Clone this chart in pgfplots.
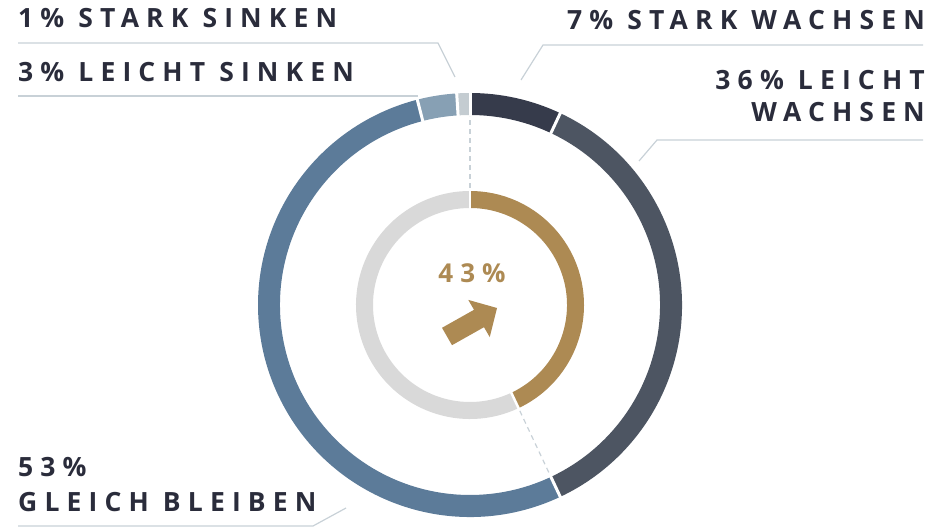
\documentclass[border=0pt]{standalone}
\usepackage{pgfplots}
\pgfplotsset{compat=1.18}
\usepackage{pgfplotstable}
\usepackage{fontspec}
\setmainfont{Open Sans}
\newfontfamily\lab{Open Sans}[LetterSpace=27]
\definecolor{c1}{HTML}{363B4B}
\definecolor{c2}{HTML}{4D5562}
\definecolor{c3}{HTML}{5C7B99}
\definecolor{c4}{HTML}{87A0B4}
\definecolor{c5}{HTML}{C4CCD1}
\definecolor{gold}{HTML}{AD8A53}
\definecolor{ringgrey}{HTML}{D9D9D9}
\definecolor{txt}{HTML}{2A2C3B}
\definecolor{leader}{HTML}{C8D1D7}

\pgfplotstableread{
val col
7 c1
36 c2
53 c3
3 c4
1 c5
}\outerdata
\pgfplotstableread{
val col
43 gold
57 ringgrey
}\innerdata

\begin{document}
\begin{tikzpicture}
\begin{axis}[
  width=951bp, height=528bp, scale only axis,
  xmin=-470, xmax=481, ymin=-223, ymax=305,
  hide axis, clip=false,
]
\addplot[draw=none] coordinates {(0,0)};
\coordinate (bl) at (rel axis cs:0,0);
\coordinate (tr) at (rel axis cs:1,1);
\pgfplotsextra{
  % outer ring
  \gdef\cum{0}
  \foreach \i in {0,...,4}{
    \pgfplotstablegetelem{\i}{val}\of\outerdata \let\v\pgfplotsretval
    \pgfplotstablegetelem{\i}{col}\of\outerdata \let\c\pgfplotsretval
    \pgfmathsetmacro\aone{\cum*3.6}
    \pgfmathsetmacro\atwo{(\cum+\v)*3.6}
    \fill[\c] (axis cs:{212*sin(\aone)},{212*cos(\aone)}) arc[start angle={90-\aone}, end angle={90-\atwo}, radius=212bp]
      -- (axis cs:{190*sin(\atwo)},{190*cos(\atwo)}) arc[start angle={90-\atwo}, end angle={90-\aone}, radius=190bp] -- cycle;
    \pgfmathsetmacro\nc{\cum+\v}\xdef\cum{\nc}
  }
  \gdef\cum{0}
  \foreach \i in {0,...,4}{
    \pgfplotstablegetelem{\i}{val}\of\outerdata \let\v\pgfplotsretval
    \pgfmathsetmacro\aone{\cum*3.6}
    \draw[white, line width=3bp] (axis cs:{186*sin(\aone)},{186*cos(\aone)}) -- (axis cs:{216*sin(\aone)},{216*cos(\aone)});
    \pgfmathsetmacro\nc{\cum+\v}\xdef\cum{\nc}
  }
  % inner ring
  \gdef\cum{0}
  \foreach \i in {0,1}{
    \pgfplotstablegetelem{\i}{val}\of\innerdata \let\v\pgfplotsretval
    \pgfplotstablegetelem{\i}{col}\of\innerdata \let\c\pgfplotsretval
    \pgfmathsetmacro\aone{\cum*3.6}
    \pgfmathsetmacro\atwo{(\cum+\v)*3.6}
    \fill[\c] (axis cs:{114*sin(\aone)},{114*cos(\aone)}) arc[start angle={90-\aone}, end angle={90-\atwo}, radius=114bp]
      -- (axis cs:{97*sin(\atwo)},{97*cos(\atwo)}) arc[start angle={90-\atwo}, end angle={90-\aone}, radius=97bp] -- cycle;
    \pgfmathsetmacro\nc{\cum+\v}\xdef\cum{\nc}
  }
  \gdef\cum{0}
  \foreach \i in {0,1}{
    \pgfplotstablegetelem{\i}{val}\of\innerdata \let\v\pgfplotsretval
    \pgfmathsetmacro\aone{\cum*3.6}
    \draw[white, line width=2.5bp] (axis cs:{94*sin(\aone)},{94*cos(\aone)}) -- (axis cs:{117*sin(\aone)},{117*cos(\aone)});
    \draw[leader, line width=1.2bp, dash pattern=on 5bp off 4bp] (axis cs:{117*sin(\aone)},{117*cos(\aone)}) -- (axis cs:{189*sin(\aone)},{189*cos(\aone)});
    \pgfmathsetmacro\nc{\cum+\v}\xdef\cum{\nc}
  }
}
% arrow
\fill[gold] (axis cs:-28,-22.8) -- (axis cs:4,-4.8) -- (axis cs:-1.75,5.1) -- (axis cs:27,-3) -- (axis cs:19.75,-32.1) -- (axis cs:14,-22.2) -- (axis cs:-18,-40.2) -- cycle;
\node[anchor=base, text=gold, font=\lab\bfseries\fontsize{26bp}{30bp}\selectfont, inner sep=0pt] at (axis cs:2,22) {43\%};
% leader lines
\draw[leader, line width=1.2bp] (axis cs:-452,262) -- (axis cs:-32,262) -- (axis cs:-15,228);
\draw[leader, line width=1.2bp] (axis cs:-452,209) -- (axis cs:-52,209);
\draw[leader, line width=1.2bp] (axis cs:453,260) -- (axis cs:73,260) -- (axis cs:51,225);
\draw[leader, line width=1.2bp] (axis cs:453,165) -- (axis cs:187,165) -- (axis cs:169,144);
\draw[leader, line width=1.2bp] (axis cs:-452,-221) -- (axis cs:-157,-221) -- (axis cs:-124,-203);
% labels
\begin{scope}[every node/.style={text=txt, font=\lab\bfseries\fontsize{26.5bp}{30bp}\selectfont, inner sep=0pt}]
\node[anchor=base west] at (axis cs:-452,277) {1\% STARK SINKEN};
\node[anchor=base west] at (axis cs:-452,223) {3\% LEICHT SINKEN};
\node[anchor=base east] at (axis cs:455,275) {7\% STARK WACHSEN};
\node[anchor=base east] at (axis cs:455,215) {36\% LEICHT};
\node[anchor=base east] at (axis cs:455,183) {WACHSEN};
\node[anchor=base west] at (axis cs:-452,-172) {53\%};
\node[anchor=base west] at (axis cs:-452,-206) {GLEICH BLEIBEN};
\end{scope}
\end{axis}
\pgfresetboundingbox
\path[use as bounding box] (bl) rectangle (tr);
\end{tikzpicture}
\end{document}
